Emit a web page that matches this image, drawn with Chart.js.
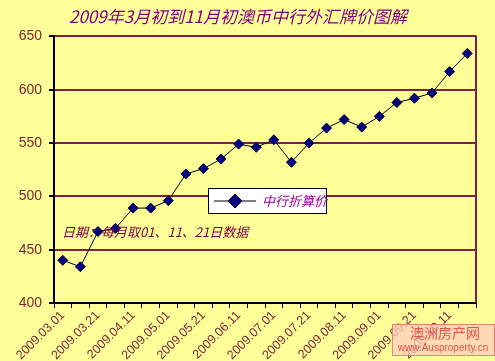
<!DOCTYPE html>
<html>
<head>
<meta charset="utf-8">
<script src="https://cdn.jsdelivr.net/npm/chart.js@4"></script>
<style>
  html, body { margin: 0; padding: 0; background: #ffff99; }
  #wrap { width: 495px; height: 361px; }
</style>
</head>
<body>
<div id="wrap"><canvas id="rateChart" width="495" height="361"></canvas></div>
<script>
// sample dates: 01, 11, 21 of each month
const dates = [
  '2009.03.01', '2009.03.11', '2009.03.21', '2009.04.01', '2009.04.11', '2009.04.21',
  '2009.05.01', '2009.05.11', '2009.05.21', '2009.06.01', '2009.06.11', '2009.06.21',
  '2009.07.01', '2009.07.11', '2009.07.21', '2009.08.01', '2009.08.11', '2009.08.21',
  '2009.09.01', '2009.09.11', '2009.09.21', '2009.10.01', '2009.10.11', '2009.10.21'
];
const bocRate = [
  440, 434, 467, 470, 489, 489, 496, 521, 526, 535, 549, 546,
  553, 532, 550, 564, 572, 565, 575, 588, 592, 597, 617, 634
];
const yTicks = [400, 450, 500, 550, 600, 650];

const titleText = '2009年3月初到11月初澳币中行外汇牌价图解';
const seriesName = '中行折算价';
const noteText = '日期：每月取01、11、21日数据';

const cjk = '"Noto Sans CJK SC", sans-serif';
const maroon = '#7b2048';

const overlay = {
  id: 'overlay',
  afterDraw(chart) {
    const ctx = chart.ctx;
    const a = chart.chartArea;
    ctx.save();

    // right border of plot area
    ctx.strokeStyle = maroon;
    ctx.lineWidth = 2;
    ctx.beginPath();
    ctx.moveTo(a.right, a.top - 1);
    ctx.lineTo(a.right, a.bottom);
    ctx.stroke();

    // note text
    ctx.fillStyle = '#800040';
    ctx.font = 'italic 13px ' + cjk;
    ctx.textBaseline = 'middle';
    ctx.fillText(noteText, 62, 232);

    // legend box
    ctx.fillStyle = '#ffffff';
    ctx.fillRect(208, 188, 118, 25);
    ctx.strokeStyle = '#000';
    ctx.lineWidth = 1;
    ctx.strokeRect(208.5, 188.5, 118, 25);
    ctx.beginPath();
    ctx.moveTo(214, 201);
    ctx.lineTo(256, 201);
    ctx.stroke();
    ctx.fillStyle = '#000080';
    ctx.beginPath();
    ctx.moveTo(228, 201);
    ctx.lineTo(235, 194);
    ctx.lineTo(242, 201);
    ctx.lineTo(235, 208);
    ctx.closePath();
    ctx.fill();
    ctx.stroke();
    ctx.fillStyle = '#990099';
    ctx.font = 'italic 13px ' + cjk;
    ctx.fillText(seriesName, 262, 201);

    // watermark
    ctx.fillStyle = 'rgba(255, 205, 190, 0.75)';
    ctx.fillRect(392, 324, 103, 32);
    ctx.strokeStyle = 'rgba(220, 110, 100, 0.8)';
    ctx.strokeRect(392.5, 324.5, 102, 31);
    ctx.fillStyle = 'rgba(215, 60, 60, 0.85)';
    ctx.font = '14px ' + cjk;
    ctx.textAlign = 'center';
    ctx.fillText('澳洲房产网', 445, 333);
    ctx.font = '10px "Liberation Sans", Arial, sans-serif';
    ctx.fillText('www.Ausproperty.cn', 443, 348);
    ctx.restore();
  }
};

new Chart(document.getElementById('rateChart'), {
  type: 'line',
  data: {
    labels: dates,
    datasets: [{
      label: seriesName,
      data: bocRate,
      borderColor: '#000',
      borderWidth: 1,
      pointStyle: 'rectRot',
      pointRadius: 5,
      pointBackgroundColor: '#000080',
      pointBorderColor: '#000033',
      pointBorderWidth: 1,
      tension: 0
    }]
  },
  options: {
    responsive: false,
    animation: false,
    layout: { padding: { left: 0, right: 19, top: 0, bottom: 0 } },
    plugins: {
      legend: { display: false },
      tooltip: { enabled: false },
      title: {
        display: true,
        text: titleText,
        color: '#800080',
        font: { family: cjk, size: 17, style: 'italic', weight: 'normal' },
        padding: { top: 6, bottom: 10 }
      }
    },
    scales: {
      x: {
        offset: true,
        grid: { offset: true, drawOnChartArea: false, color: '#000', tickLength: 5 },
        border: { color: '#000', width: 2 },
        ticks: {
          autoSkip: false,
          minRotation: 45,
          maxRotation: 45,
          color: '#7a1f3d',
          font: { family: '"Liberation Sans", Arial, sans-serif', size: 12.5 },
          padding: 0,
          callback: (v, i) => (i % 2 === 0 ? dates[i] : '')
        },
        afterFit: s => { s.height = 58; }
      },
      y: {
        min: yTicks[0],
        max: yTicks[yTicks.length - 1],
        afterBuildTicks: s => { s.ticks = yTicks.map(v => ({ value: v })); },
        grid: { color: maroon, lineWidth: 2, tickColor: '#000', tickLength: 5 },
        border: { color: '#000', width: 2 },
        ticks: {
          color: '#7a1f2f',
          font: { family: '"Liberation Sans", Arial, sans-serif', size: 14 },
          padding: 7
        },
        afterFit: s => { s.width = 54; }
      }
    }
  },
  plugins: [overlay]
});
</script>
</body>
</html>
